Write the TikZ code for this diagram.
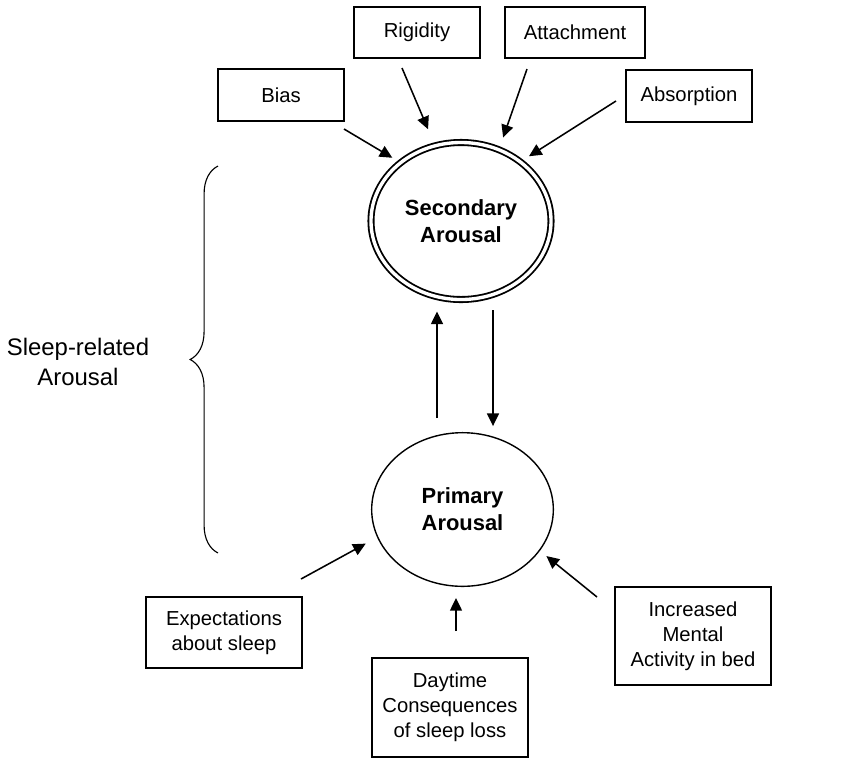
\documentclass[tikz,border=0pt]{standalone}
\usepackage{fontspec}
\setmainfont{Liberation Sans}
\usetikzlibrary{shapes.geometric,arrows.meta,decorations.pathreplacing}

\tikzset{
  box/.style={draw, line width=0.8pt, inner sep=0pt, align=center, font=\fontsize{14.4}{17.7}\selectfont},
  arousal/.style={ellipse, draw, line width=1pt, inner sep=0pt, outer sep=0pt, align=center, font=\fontsize{15.6}{19}\selectfont\bfseries},
  arr/.style={-{Triangle[length=9pt,width=8.5pt]}, line width=1.1pt},
}

\begin{document}
\begin{tikzpicture}[x=0.025cm,y=-0.025cm]
  \useasboundingbox (0,0) rectangle (867,779);

  % Arousal ellipses
  \node[arousal, double, line width=1.3pt, double distance=2.4pt, minimum width=4.5cm, minimum height=3.925cm] (sec) at (461,221) {Secondary\\Arousal};
  \node[arousal, minimum width=4.54cm, minimum height=3.84cm] (pri) at (462.5,509.5) {Primary\\Arousal};

  % Boxes on top
  \node[box, minimum width=3.15cm, minimum height=1.3cm] (bias) at (281,95) {Bias};
  \node[box, minimum width=3.15cm, minimum height=1.275cm] (rigid) at (417,32.5) {Rigidity};
  \node[box, minimum width=3.5cm, minimum height=1.275cm] (attach) at (575,32.5) {Attachment};
  \node[box, minimum width=3.15cm, minimum height=1.3cm] (absorb) at (689,96) {Absorption};

  % Boxes at the bottom
  \node[box, minimum width=3.9cm, minimum height=1.775cm] (expect) at (224,632.5) {Expectations\\about sleep};
  \node[box, minimum width=3.9cm, minimum height=2.475cm] (daytime) at (450,707.5) {Daytime\\Consequences\\of sleep loss};
  \node[box, minimum width=3.9cm, minimum height=2.45cm] (incr) at (693,636) {Increased\\Mental\\Activity in bed};

  % Arrow tails
  \coordinate (biast) at (344,129);
  \coordinate (rigidt) at (402,68);
  \coordinate (attacht) at (527,69);
  \coordinate (absorbt) at (616,101);
  \coordinate (expectt) at (301,579);
  \coordinate (daytimet) at (456,631);
  \coordinate (incrt) at (597,597);
  \coordinate (up) at (437,418);
  \coordinate (down) at (493,310);

  % Arrows into Secondary Arousal
  \foreach \t/\a/\s in {biast/136/6.9pt, rigidt/109/12.8pt, attacht/62/9.2pt, absorbt/45/7.4pt}
    \draw[arr, shorten >=\s] (\t) -- (sec.\a);

  % Arrows into Primary Arousal
  \draw[arr, shorten >=9.7pt] (expectt) -- (pri.198);
  \draw[arr, shorten >=8.3pt] (daytimet) -- (daytimet |- pri.south);
  \draw[arr, shorten >=6.4pt] (incrt) -- (pri.332);

  % Between the two
  \draw[arr, shorten >=8.5pt] (up) -- (up |- sec.south);
  \draw[arr, shorten >=4.7pt] (down) -- (down |- pri.north);

  % Brace and its label
  \coordinate (bbot) at (218,553);
  \coordinate (btop) at (218,166);
  \draw[decorate, decoration={brace, amplitude=19.8pt}, line width=0.8pt] (bbot) -- (btop);
  \node[font=\fontsize{17}{21}\selectfont, align=center] (sleep) at (78,362) {Sleep-related\\Arousal};
\end{tikzpicture}
\end{document}
